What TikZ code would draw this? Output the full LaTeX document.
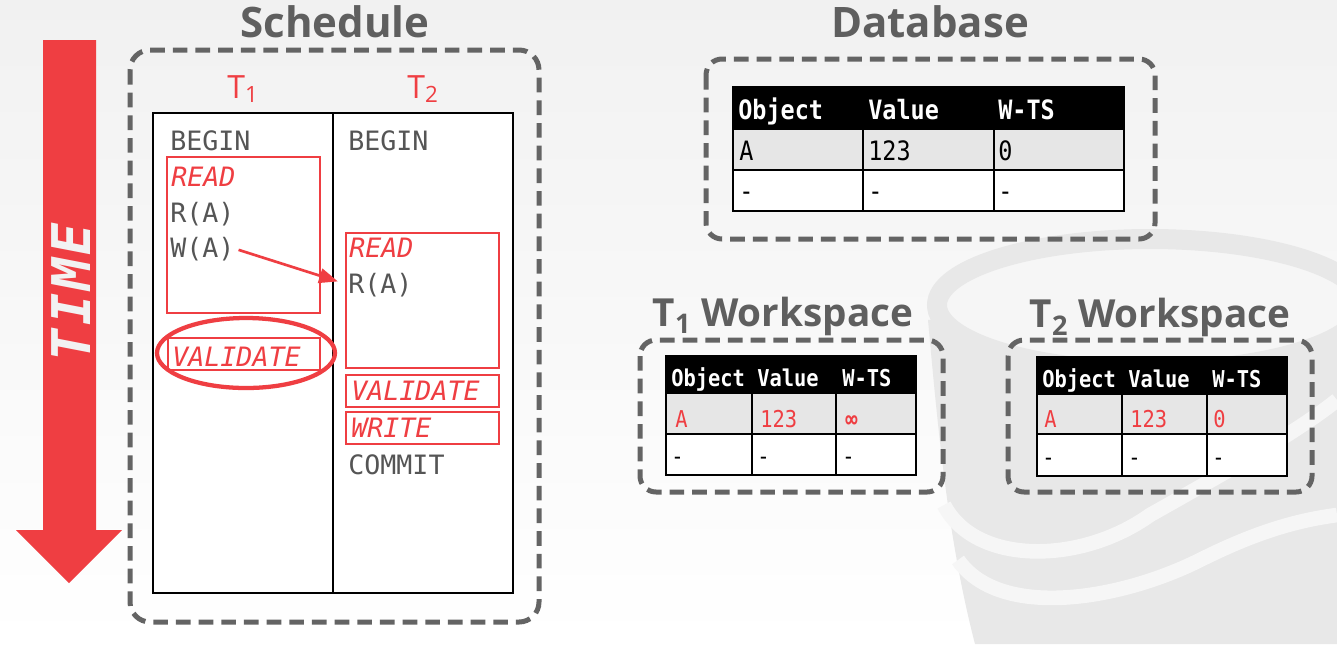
\documentclass[tikz,border=0pt]{standalone}
\usepackage{fontspec}
\setmonofont{DejaVu Sans Mono}
\newfontfamily\titlefont{Open Sans}
\newfontfamily\narrowmono{DejaVu Sans Mono}[FakeStretch=0.88]
\newfontfamily\timefont{DejaVu Sans Mono}[LetterSpace=6]
\usetikzlibrary{arrows.meta}
\definecolor{tred}{RGB}{239,62,66}
\definecolor{dgray}{RGB}{100,100,100}
\definecolor{tgray}{RGB}{95,95,95}
\definecolor{cgray}{RGB}{85,85,85}
\definecolor{rowgray}{RGB}{230,230,230}
\definecolor{logogray}{RGB}{232,232,232}
\definecolor{bg}{RGB}{246,246,246}
\definecolor{timewhite}{RGB}{242,242,242}
\tikzset{
  code/.style={font=\ttfamily\fontsize{20}{24}\selectfont, text=cgray, anchor=base west, inner sep=0pt},
  phase/.style={code, text=tred, font=\ttfamily\itshape\fontsize{20}{24}\selectfont},
  phasebox/.style={draw=tred, line width=1.1pt},
  dashbox/.style={draw=dgray, line width=3.75pt, dash pattern=on 11pt off 6pt, rounded corners=12pt},
  title/.style={font=\titlefont\bfseries\fontsize{31.5}{36}\selectfont, text=tgray, anchor=base},
  wtitle/.style={title, font=\titlefont\bfseries\fontsize{29}{34}\selectfont},
  tlabel/.style={font=\titlefont\fontsize{24}{28}\selectfont, text=tred, anchor=base},
  tline/.style={draw=black, line width=1.5pt},
  hdr/.style={font=\narrowmono\bfseries\fontsize{20}{22}\selectfont, text=white, anchor=base west, inner sep=0pt},
  cell/.style={font=\narrowmono\fontsize{20}{22}\selectfont, text=black, anchor=base west, inner sep=0pt},
  whdr/.style={hdr, font=\narrowmono\bfseries\fontsize{17.4}{20}\selectfont},
  wcell/.style={cell, font=\narrowmono\fontsize{17.4}{20}\selectfont}
}
\begin{document}
\begin{tikzpicture}[x=0.75pt,y=-0.75pt]
\shade[top color=bg!98!black, bottom color=white, use as bounding box] (0,0) rectangle (1337,644);
\begin{scope}
\clip (900,200) rectangle (1337,644);
\fill[logogray] (928,320) .. controls (938,430) and (948,540) .. (975,644) -- (1337,644) -- (1337,280) -- cycle;
\fill[bg] (1150,305) ellipse (205 and 58);
\draw[logogray, line width=15pt] (1150,305) ellipse (213 and 66);
\draw[bg, line width=11pt] (944,505) .. controls (975,565) and (1080,565) .. (1150,515) .. controls (1230,470) and (1300,430) .. (1337,400);
\draw[bg, line width=11pt] (958,560) .. controls (1000,620) and (1120,600) .. (1200,560) .. controls (1260,530) and (1300,520) .. (1337,515);
\end{scope}
\fill[tred] (43,40) -- (96,40) -- (96,530) -- (122,530) -- (69,583) -- (16,530) -- (43,530) -- cycle;
\node[rotate=90, font=\timefont\bfseries\itshape\fontsize{40}{42}\selectfont, text=timewhite] (time) at (71,292) {TIME};
\node[title] (sched) at (335,37) {Schedule};
\draw[dashbox, rounded corners=15pt] (130,50) rectangle (539,622);
\draw[line width=1.1pt, fill=white] (153,113) rectangle (513,593);
\draw[line width=1.1pt] (333,113) -- (333,593);
\node[tlabel] (t1) at (243,98) {T\textsubscript{1}};
\node[tlabel] (t2) at (423,98) {T\textsubscript{2}};
\node[code] (t1begin) at (170,150) {BEGIN};
\draw[phasebox] (167,157) rectangle (320,313);
\node[phase] (t1read) at (171,186) {READ};
\node[code] (t1r) at (170,222) {R(A)};
\node[code] (t1w) at (170,257) {W(A)};
\draw[phasebox] (168,338) rectangle (320,370);
\node[phase] (t1val) at (172,366) {VALIDATE};
\draw[tred, line width=3.2pt] (246,353) ellipse (89 and 35);
\node[code] (t2begin) at (348,150) {BEGIN};
\draw[phasebox] (346,233) rectangle (499,368);
\node[phase] (t2read) at (349,257) {READ};
\node[code] (t2r) at (348,293) {R(A)};
\draw[phasebox] (346,375) rectangle (499,407);
\node[phase] (t2val) at (351,400) {VALIDATE};
\draw[phasebox] (346,412) rectangle (499,444);
\node[phase] (t2write) at (351,437) {WRITE};
\node[code] (t2commit) at (348,474) {COMMIT};
\draw[tred, line width=2pt, -{Triangle[length=14pt,width=11pt]}, shorten <=3pt, shorten >=8pt] (t1w.east) -- (t2r.west);
\node[title] (db) at (930,37) {Database};
\draw[dashbox] (706,59) rectangle (1155,239);
\fill[black] (733,87) rectangle (1124,129);
\fill[rowgray] (733,129) rectangle (1124,170);
\fill[white] (733,170) rectangle (1124,211);
\draw[tline] (733,87) rectangle (1124,211);
\draw[tline] (733,129) -- (1124,129) (733,170) -- (1124,170) (863,129) -- (863,211) (994,129) -- (994,211);
\node[hdr] (dbobj) at (738,119) {Object};
\node[hdr] (dbval) at (868,119) {Value};
\node[hdr] (dbts) at (998,119) {W-TS};
\node[cell] (dba) at (739,160) {A};
\node[cell] (dbv) at (868,160) {123};
\node[cell] (dbt) at (998,160) {0};
\node[cell] (dbd1) at (739,200) {-};
\node[cell] (dbd2) at (868,200) {-};
\node[cell] (dbd3) at (998,200) {-};
\node[wtitle] (ws1) at (783,326) {T\textsubscript{1} Workspace};
\draw[dashbox] (640,340) rectangle (943,492);
\fill[black] (666,356) rectangle (916,393);
\fill[rowgray] (666,393) rectangle (916,434);
\fill[white] (666,434) rectangle (916,475);
\draw[tline] (666,356) rectangle (916,475);
\draw[tline] (666,393) -- (916,393) (666,434) -- (916,434) (752,393) -- (752,475) (836,393) -- (836,475);
\node[whdr] (w1obj) at (671,386) {Object};
\node[whdr] (w1val) at (757,386) {Value};
\node[whdr] (w1ts) at (842,386) {W-TS};
\node[wcell, text=tred] (w1a) at (675,427) {A};
\node[wcell, text=tred] (w1v) at (760,427) {123};
\node[wcell, text=tred, font=\narrowmono\bfseries\fontsize{17.4}{20}\selectfont] (w1t) at (845,427) {∞};
\node[wcell] (w1d1) at (671,464) {-};
\node[wcell] (w1d2) at (757,464) {-};
\node[wcell] (w1d3) at (842,464) {-};
\node[wtitle] (ws2) at (1160,327) {T\textsubscript{2} Workspace};
\draw[dashbox] (1008,340) rectangle (1312,492);
\fill[black] (1037,357) rectangle (1287,394);
\fill[rowgray] (1037,394) rectangle (1287,434);
\fill[white] (1037,434) rectangle (1287,476);
\draw[tline] (1037,357) rectangle (1287,476);
\draw[tline] (1037,394) -- (1287,394) (1037,434) -- (1287,434) (1122,394) -- (1122,476) (1207,394) -- (1207,476);
\node[whdr] (w2obj) at (1042,387) {Object};
\node[whdr] (w2val) at (1128,387) {Value};
\node[whdr] (w2ts) at (1212,387) {W-TS};
\node[wcell, text=tred] (w2a) at (1044,427) {A};
\node[wcell, text=tred] (w2v) at (1130,427) {123};
\node[wcell, text=tred] (w2t) at (1213,427) {0};
\node[wcell] (w2d1) at (1042,465) {-};
\node[wcell] (w2d2) at (1128,465) {-};
\node[wcell] (w2d3) at (1212,465) {-};
\end{tikzpicture}
\end{document}
